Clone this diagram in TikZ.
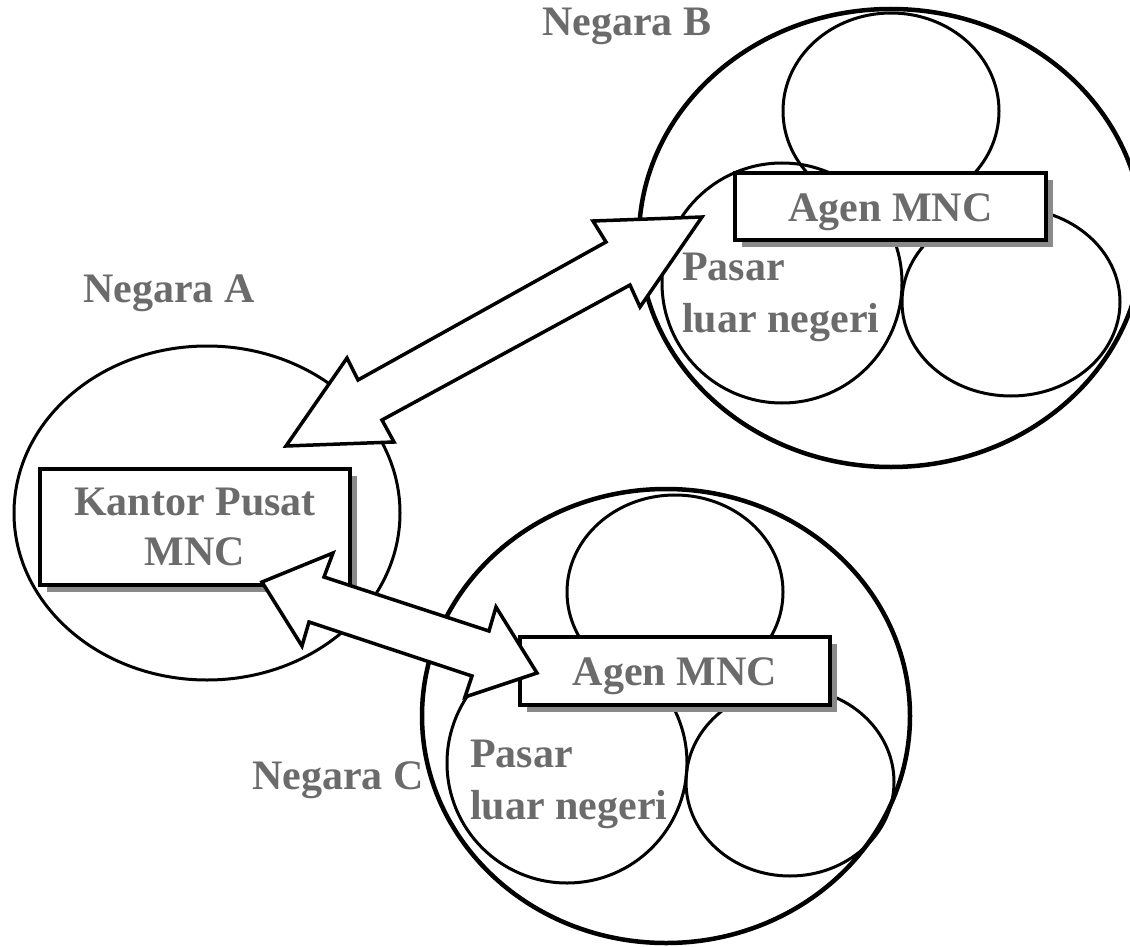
\documentclass[tikz,border=0pt]{standalone}
\usepackage{fontspec}
\setmainfont{Liberation Serif}
\usetikzlibrary{shadows}
\definecolor{labelgray}{HTML}{6B6B6B}
\definecolor{shadowgray}{HTML}{8A8A8A}
\begin{document}
\begin{tikzpicture}[x=1pt,y=-1pt,
  country/.style={line width=4.5pt},
  countrythin/.style={line width=3pt},
  region/.style={line width=3pt},
  lbl/.style={text=labelgray, font=\fontsize{42}{52}\selectfont\bfseries, inner sep=0pt},
  office/.style={lbl, draw=black, line width=4pt, fill=white, align=center,
    drop shadow={shadow xshift=7pt, shadow yshift=-7pt, fill=shadowgray, opacity=1}},
  blockarrow/.style={draw, line width=3.5pt, fill=white, line join=miter}
]
\useasboundingbox (0,0) rectangle (1130,947);
\clip (0,0) rectangle (1130,947);

% countries
\draw[countrythin] (207,513) ellipse [x radius=193pt, y radius=167pt];
\draw[country] (891,238) ellipse [x radius=252pt, y radius=229pt];
\draw[country] (666,716) ellipse [x radius=244pt, y radius=227pt];

% foreign markets in Negara B
\draw[region] (891,111) ellipse [x radius=108pt, y radius=98pt];
\draw[region] (782,283) ellipse [x radius=120pt, y radius=120pt];
\draw[region] (1011,302) ellipse [x radius=109pt, y radius=94pt];

% foreign markets in Negara C
\draw[region] (675,592) ellipse [x radius=108pt, y radius=97pt];
\draw[region] (567,763) ellipse [x radius=120pt, y radius=120pt];
\draw[region] (790,782) ellipse [x radius=104pt, y radius=94pt];

% country names
\node[lbl, anchor=base west] (negB) at (542,36) {Negara B};
\node[lbl, anchor=base west] (negA) at (83,302) {Negara A};
\node[lbl, anchor=base west] (negC) at (252,789) {Negara C};

% market labels
\node[lbl, anchor=base west] (pasarB) at (682,280)
  {\begin{tabular}[t]{@{}l@{}}Pasar\\luar negeri\end{tabular}};
\node[lbl, anchor=base west] (pasarC) at (470,767)
  {\begin{tabular}[t]{@{}l@{}}Pasar\\luar negeri\end{tabular}};

% offices
\node[office, minimum width=310pt, minimum height=116pt] (hq) at (195,527)
  {Kantor Pusat\\[-2pt]MNC};
\node[office, minimum width=311pt, minimum height=67pt, text height=29pt, text depth=0pt]
  (agenB) at (890.5,206.5) {Agen MNC};
\node[office, minimum width=310pt, minimum height=68pt, text height=29pt, text depth=0pt]
  (agenC) at (675,671) {Agen MNC};

% double block arrow between Negara A and Negara B
\coordinate (ab-tipA) at (286,446);
\coordinate (ab-barbA1) at (347,358);
\coordinate (ab-shaftA1) at (358,380);
\coordinate (ab-shaftB1) at (606,242);
\coordinate (ab-barbB1) at (593,221);
\coordinate (ab-tipB) at (702,217);
\coordinate (ab-barbB2) at (640,307);
\coordinate (ab-shaftB2) at (630,285);
\coordinate (ab-shaftA2) at (382,420);
\coordinate (ab-barbA2) at (394,442);
\draw[blockarrow] (ab-tipA) -- (ab-barbA1) -- (ab-shaftA1) -- (ab-shaftB1) -- (ab-barbB1)
  -- (ab-tipB) -- (ab-barbB2) -- (ab-shaftB2) -- (ab-shaftA2) -- (ab-barbA2) -- cycle;

% double block arrow between Negara A and Negara C
\coordinate (ac-tipA) at (262,582);
\coordinate (ac-barbA1) at (333,553);
\coordinate (ac-shaftA1) at (324,577);
\coordinate (ac-shaftC1) at (489,631);
\coordinate (ac-barbC1) at (496,607);
\coordinate (ac-tipC) at (537,673);
\coordinate (ac-barbC2) at (465,697);
\coordinate (ac-shaftC2) at (472,676);
\coordinate (ac-shaftA2) at (309,622);
\coordinate (ac-barbA2) at (302,646);
\draw[blockarrow] (ac-tipA) -- (ac-barbA1) -- (ac-shaftA1) -- (ac-shaftC1) -- (ac-barbC1)
  -- (ac-tipC) -- (ac-barbC2) -- (ac-shaftC2) -- (ac-shaftA2) -- (ac-barbA2) -- cycle;
\end{tikzpicture}
\end{document}
